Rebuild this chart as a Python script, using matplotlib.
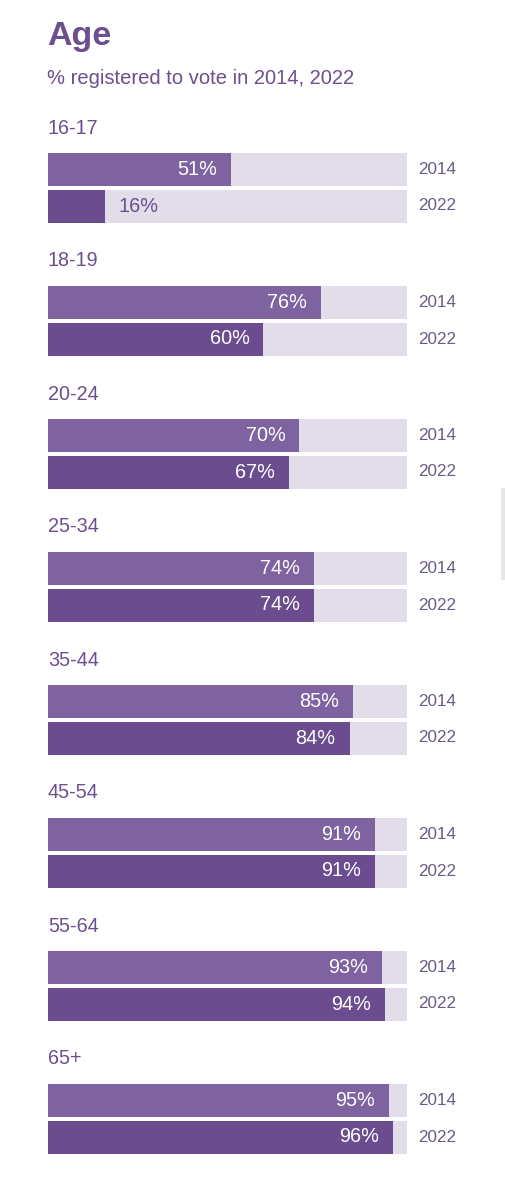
import matplotlib
matplotlib.use("Agg")
import matplotlib.pyplot as plt
from matplotlib.patches import Rectangle

# data
age_groups = ["16-17", "18-19", "20-24", "25-34", "35-44", "45-54", "55-64", "65+"]
years = ["2014", "2022"]
reg_2014 = [51, 76, 70, 74, 85, 91, 93, 95]
reg_2022 = [16, 60, 67, 74, 84, 91, 94, 96]

c_2014 = "#7e63a0"
c_2022 = "#6a4c8f"
c_track = "#e2dde9"
c_text = "#6b4f8e"
c_year = "#6a5a85"

plt.rcParams["font.family"] = ["Liberation Sans", "DejaVu Sans"]

W, H = 506, 1200
fig = plt.figure(figsize=(W / 100, H / 100), dpi=100)
fig.patch.set_facecolor("white")

# axes spans the bar track horizontally, full figure height in pixel units
ax = fig.add_axes([48 / W, 0, 359 / W, 1])
ax.set_xlim(0, 100)
ax.set_ylim(H, 0)
ax.axis("off")

fig.text(47 / W, 1 - 36 / H, "Age", fontsize=24.5, fontweight="bold",
         color=c_text, va="center", ha="left")
fig.text(47 / W, 1 - 78 / H, "% registered to vote in 2014, 2022", fontsize=14.5,
         color=c_text, va="center", ha="left")

step = 133
bar_h = 33
pad = 14 / 359 * 100
for i, grp in enumerate(age_groups):
    y0 = 128 + step * i
    ax.text(0, y0, grp, fontsize=14.2, color=c_text, va="center", ha="left")
    for yr, val, col, dy in [(years[0], reg_2014[i], c_2014, 41.5),
                             (years[1], reg_2022[i], c_2022, 78)]:
        yc = y0 + dy
        ax.barh(yc, 100, height=bar_h, color=c_track, linewidth=0)
        ax.barh(yc, val, height=bar_h, color=col, linewidth=0)
        if val < 25:
            ax.text(val + 3.5, yc, f"{val}%", fontsize=14.3, color=c_text,
                    va="center", ha="left")
        else:
            ax.text(val - pad, yc, f"{val}%", fontsize=14.3, color="white",
                    va="center", ha="right")
        ax.text(103.1, yc, yr, fontsize=12.3, color=c_year, va="center", ha="left",
                clip_on=False)

# faint scrollbar on the right edge
fig.patches.append(Rectangle((501 / W, 1 - 580 / H), 5 / W, 92 / H,
                             transform=fig.transFigure, facecolor="#e6e6e6",
                             edgecolor="none"))

fig.savefig("out.png", dpi=100)
